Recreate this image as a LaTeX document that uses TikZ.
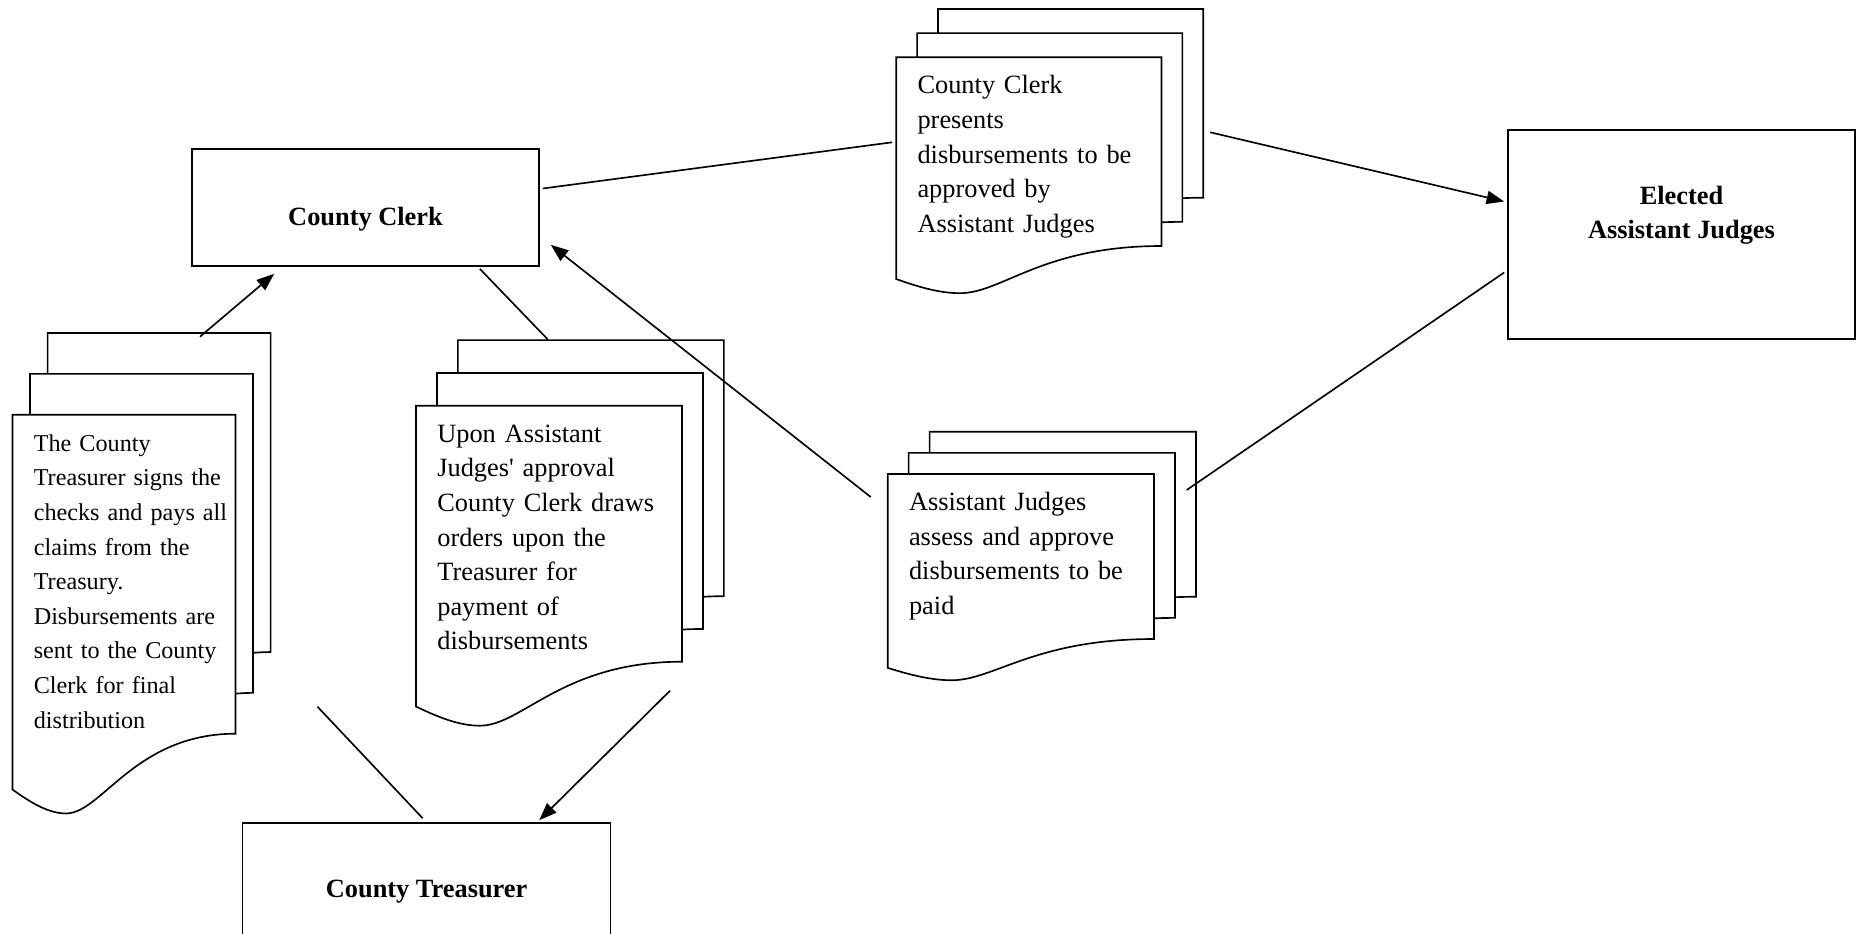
\documentclass[tikz,border=0pt]{standalone}
\usepackage{fontspec}
\setmainfont{Liberation Serif}
\usetikzlibrary{arrows.meta,calc}

\newcommand{\upx}{0.455pt}
\newcommand{\docsheet}[4]{%
  \draw[sheet] (#1,#2) -- (#1+#3,#2) -- (#1+#3,#2+#4)
    .. controls (#1+0.55*#3,#2+#4) and (#1+0.40*#3,#2+1.25*#4) .. (#1+0.24*#3,#2+1.25*#4)
    .. controls (#1+0.16*#3,#2+1.25*#4) and (#1+0.08*#3,#2+1.215*#4) .. (#1,#2+1.175*#4) -- cycle;}
\newcommand{\docstack}[4]{%
  \docsheet{#1+0.1574*#3}{#2-0.256*#4}{#3}{#4}
  \docsheet{#1+0.0787*#3}{#2-0.128*#4}{#3}{#4}
  \docsheet{#1}{#2}{#3}{#4}}

\tikzset{
  sheet/.style={draw, line width=0.75pt, fill=white},
  box/.style={draw, line width=0.75pt, inner sep=0pt, align=center,
    font=\fontsize{12}{15.75}\selectfont\bfseries},
  doctext/.style={anchor=north west, align=left, text width=120pt,
    inner xsep=9.5pt, inner ysep=5.4pt, text height=11pt,
    font=\fontsize{12}{15.75}\selectfont},
  link/.style={line width=0.75pt},
  flow/.style={link, -{Triangle[length=8pt,width=6pt]}}
}

\begin{document}
\begin{tikzpicture}[x=\upx, y=-\upx]
  \useasboundingbox (0,0) rectangle (1857,933);

  \node[box, minimum width=347*\upx, minimum height=117*\upx, text height=16.6pt, text depth=0pt]
    (clerk) at (365.5,207.5) {County Clerk};
  \node[box, minimum width=347*\upx, minimum height=209*\upx, text depth=20pt]
    (judges) at (1681.5,234.5) {Elected\\Assistant Judges};
  \node[box, minimum width=368*\upx, minimum height=137*\upx]
    (treasurer) at (426.6,891.5) {County Treasurer};

  \docstack{12.5}{414.7}{223}{319}
  \docstack{416}{405.7}{266}{256}
  \docstack{896.2}{57.3}{265.3}{188.7}
  \docstack{887.7}{474}{266.3}{165}

  \node[doctext, font=\fontsize{11}{15.75}\selectfont] (paydoc) at (12.5,414.7)
    {The County\\Treasurer signs the\\checks and pays all\\claims from the\\Treasury.\\Disbursements are\\sent to the County\\Clerk for final\\distribution};
  \node[doctext] (ordersdoc) at (416,405.7)
    {Upon Assistant\\Judges\textquotesingle{} approval\\County Clerk draws\\orders upon the\\Treasurer for\\payment of\\disbursements};
  \node[doctext] (presentdoc) at (896.2,57.3)
    {County Clerk\\presents\\disbursements to be\\approved by\\Assistant Judges};
  \node[doctext] (approvedoc) at (887.7,474)
    {Assistant Judges\\assess and approve\\disbursements to be\\paid};

  \draw[link] ($(clerk.east)+(3,-19)$) -- ($(presentdoc.north west)+(-4,85)$);
  \draw[flow] ($(presentdoc.north west)+(314,75)$) -- ($(judges.west)+(-3,-33)$);
  \draw[link] ($(judges.west)+(-3,38)$) -- ($(approvedoc.north west)+(299,16)$);
  \draw[flow] ($(approvedoc.north west)+(-17,23)$) -- ($(clerk.south east)+(11,-22)$);
  \draw[link] ($(clerk.south east)+(-60,2)$) -- ($(ordersdoc.north west)+(132,-66)$);
  \draw[flow] ($(ordersdoc.north west)+(254,285)$) -- ($(treasurer.north west)+(297.5,-2)$);
  \draw[link] ($(treasurer.north)+(-4,-4)$) -- ($(paydoc.north west)+(305,292)$);
  \draw[flow] ($(paydoc.north west)+(187.5,-78)$) -- ($(clerk.south west)+(83,7)$);
\end{tikzpicture}
\end{document}
